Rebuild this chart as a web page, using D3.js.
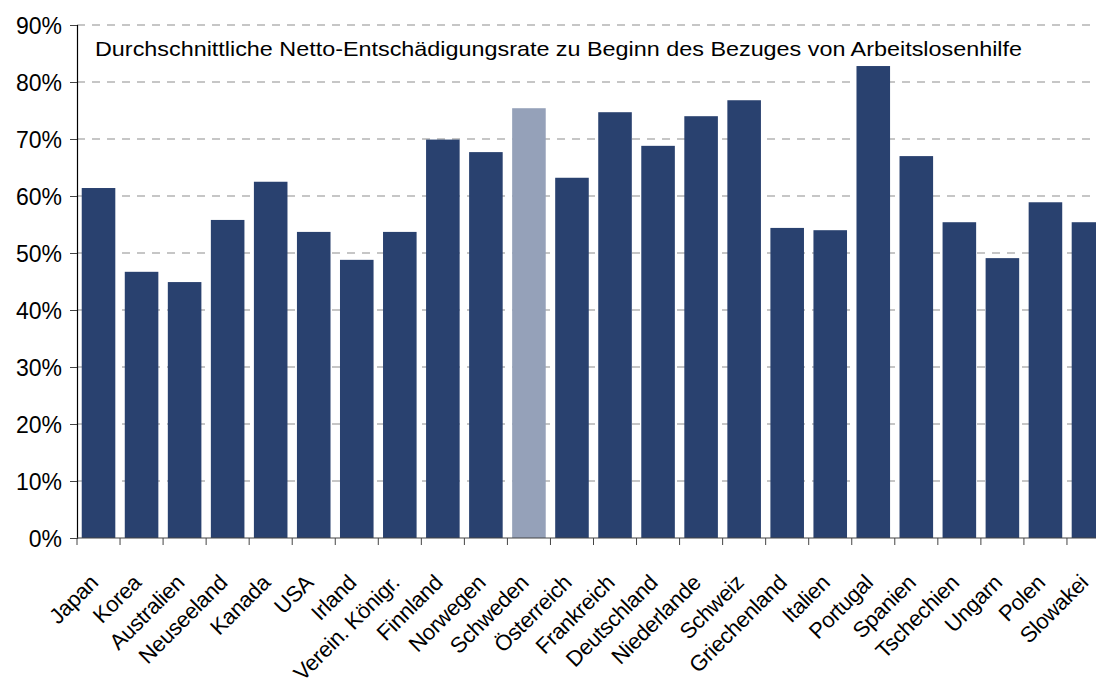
<!DOCTYPE html>
<html lang="de">
  <head>
    <meta charset="UTF-8" />
    <script src="https://d3js.org/d3.v7.min.js"></script>
    <title>Netto-Entschädigungsrate</title>
    <style>
      body {
        margin: 0;
        background: #fff;
        overflow: hidden;
      }
      text {
        font-family: "Liberation Sans", Arial, sans-serif;
        fill: #000;
      }
      .grid line {
        stroke: #b4b4b4;
        stroke-width: 1.3;
        stroke-dasharray: 8, 7;
      }
    </style>
  </head>
  <body>
    <svg id="chart" width="1096" height="682"></svg>

    <script>
      // Länder und Werte (in %)
      const countries = [
        "Japan", "Korea", "Australien", "Neuseeland", "Kanada", "USA",
        "Irland", "Verein. Königr.", "Finnland", "Norwegen", "Schweden",
        "Österreich", "Frankreich", "Deutschland", "Niederlande", "Schweiz",
        "Griechenland", "Italien", "Portugal", "Spanien", "Tschechien",
        "Ungarn", "Polen", "Slowakei"
      ];
      const rates = [
        61.4, 46.7, 44.9, 55.8, 62.5, 53.7,
        48.8, 53.7, 69.9, 67.7, 75.4,
        63.2, 74.7, 68.8, 74.0, 76.8,
        54.4, 54.0, 82.8, 67.0, 55.4,
        49.1, 58.9, 55.4
      ];
      const highlight = ["Schweden"];
      const yTicks = [0, 10, 20, 30, 40, 50, 60, 70, 80, 90];
      const title =
        "Durchschnittliche Netto-Entschädigungsrate zu Beginn des Bezuges von Arbeitslosenhilfe";

      const data = countries.map((c, i) => ({ name: c, value: rates[i] }));

      const svg = d3.select("#chart");
      const mLeft = 77, mTop = 25, mBottom = 538, mRight = 1110;

      const x = d3
        .scaleBand()
        .domain(countries)
        .range([mLeft, mRight])
        .paddingInner(0.22)
        .paddingOuter(0.11);

      const y = d3.scaleLinear().domain([0, 90]).range([mBottom, mTop]);

      // Gitterlinien
      svg
        .append("g")
        .attr("class", "grid")
        .selectAll("line")
        .data(yTicks.filter((d) => d > 0))
        .join("line")
        .attr("x1", mLeft)
        .attr("x2", mRight)
        .attr("y1", (d) => y(d))
        .attr("y2", (d) => y(d));

      // Balken
      svg
        .append("g")
        .selectAll("rect")
        .data(data)
        .join("rect")
        .attr("x", (d) => x(d.name))
        .attr("y", (d) => y(d.value))
        .attr("width", x.bandwidth())
        .attr("height", (d) => mBottom - y(d.value))
        .attr("fill", (d) => (highlight.includes(d.name) ? "#95a1b9" : "#29416f"));

      // Y-Achse
      const yAxis = svg
        .append("g")
        .attr("transform", `translate(${mLeft},0)`)
        .call(
          d3
            .axisLeft(y)
            .tickValues(yTicks)
            .tickSize(7)
            .tickPadding(8)
            .tickFormat((d) => d + "%")
        );
      yAxis.select(".domain").attr("stroke", "#000").attr("stroke-width", 1.2);
      yAxis.selectAll(".tick line").attr("stroke", "#444");
      yAxis
        .selectAll(".tick text")
        .style("font-size", "23px")
        .attr("dy", "0.36em");

      // X-Achse (Striche zwischen den Kategorien)
      const step = x.step();
      const xg = svg.append("g");
      xg.append("line")
        .attr("x1", mLeft)
        .attr("x2", mRight)
        .attr("y1", mBottom)
        .attr("y2", mBottom)
        .attr("stroke", "#444")
        .attr("stroke-width", 1.2);
      xg.selectAll(".xtick")
        .data(d3.range(countries.length + 1))
        .join("line")
        .attr("class", "xtick")
        .attr("x1", (i) => mLeft + i * step)
        .attr("x2", (i) => mLeft + i * step)
        .attr("y1", mBottom)
        .attr("y2", mBottom + 7)
        .attr("stroke", "#444");

      // Kategorienbeschriftung, um -45° gedreht
      xg.selectAll(".xlabel")
        .data(countries)
        .join("text")
        .attr("class", "xlabel")
        .attr(
          "transform",
          (d) => `translate(${x(d) + x.bandwidth() / 2 + 1},${mBottom + 46}) rotate(-45)`
        )
        .attr("text-anchor", "end")
        .style("font-size", "22px")
        .style("letter-spacing", "-0.3px")
        .text((d) => d);

      // Titel
      svg
        .append("text")
        .attr("x", 95)
        .attr("y", 56)
        .style("font-size", "21px")
        .attr("textLength", 927)
        .attr("lengthAdjust", "spacingAndGlyphs")
        .text(title);
    </script>
  </body>
</html>
